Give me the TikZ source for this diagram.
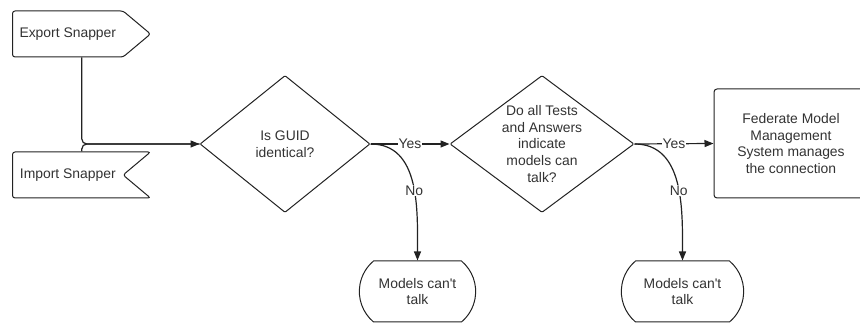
\documentclass[tikz,border=0pt]{standalone}
\usepackage{fontspec}
\setmainfont{Liberation Sans}
\usetikzlibrary{arrows.meta, shapes.geometric, shapes.symbols, shapes.misc}
\definecolor{inkgray}{RGB}{34,34,34}
\definecolor{textgray}{RGB}{51,51,51}

\begin{document}
\begin{tikzpicture}[x=1pt, y=1pt,
  base/.style={draw=inkgray, line width=1pt, fill=white, text=textgray,
    align=center, font=\fontsize{13.9}{16.8}\selectfont},
  snap/.style={base, signal, signal pointer angle=80, rounded corners=2.5pt,
    minimum width=138pt, minimum height=46pt, inner sep=0pt},
  dec/.style={base, diamond, aspect=1, inner sep=-14pt, rounded corners=1pt},
  proc/.style={base, rectangle, rounded corners=3pt},
  term/.style={base, rounded rectangle, rounded rectangle arc length=100,
    minimum width=123pt, minimum height=61pt},
  arr/.style={-{Triangle[length=9pt, width=7pt]}, line width=1.2pt, inkgray},
  lbl/.style={fill=white, text=textgray, inner sep=1pt,
    font=\fontsize{13.9}{16.8}\selectfont}
]
  \useasboundingbox (0,0) rectangle (860,323);

  \node[snap, signal to=east, anchor=west] (exp) at (12,289) {Export Snapper};
  \node[snap, signal to=nowhere, signal from=east, anchor=west] (imp) at (12,148) {Import Snapper};
  \node[dec, minimum width=170pt, minimum height=137pt] (guid) at (285,179) {Is GUID\\identical?};
  \node[dec, minimum width=184pt, minimum height=137pt] (test) at (542,179)
    {Do all Tests\\and Answers\\indicate\\models can\\talk?};
  \node[proc, minimum width=154pt, minimum height=109pt] (fed) at (791,179.5)
    {Federate Model\\Management\\System manages\\the connection};
  \node[term] (nogo1) at (417.5,31.5) {Models can\textquotesingle t\\talk};
  \node[term, minimum width=129pt] (nogo2) at (682.5,31.5) {Models can\textquotesingle t\\talk};

  \draw[arr, rounded corners=5pt] ([xshift=14pt]exp.south) |- (guid.west);
  \draw[line width=1.2pt, inkgray, rounded corners=5pt] ([xshift=14pt]imp.north) |- (guid.west);
  \draw[arr] (guid.east) -- node[lbl] {Yes} (test.west);
  \draw[arr] (test.east) -- node[lbl] {Yes} (fed.west);
  \draw[arr] (guid.east) .. controls +(50,0) and +(0,50) .. node[lbl, pos=0.55] {No} (nogo1.north);
  \draw[arr] (test.east) .. controls +(50,0) and +(0,50) .. node[lbl, pos=0.55] {No} (nogo2.north);
\end{tikzpicture}
\end{document}
